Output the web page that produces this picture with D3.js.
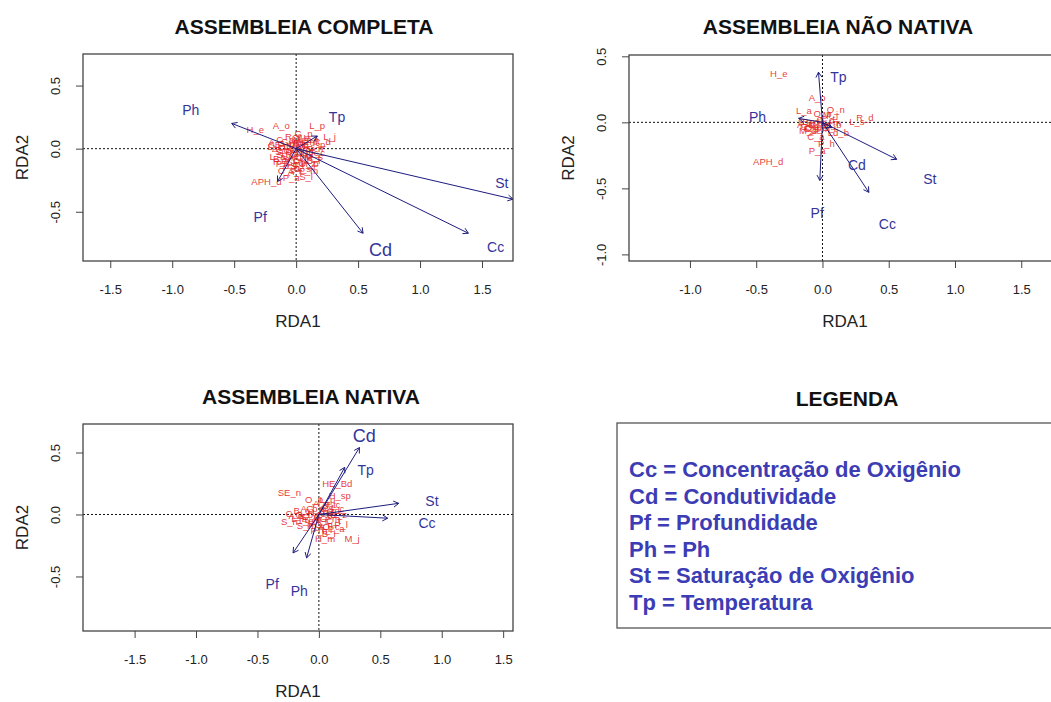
<!DOCTYPE html>
<html>
<head>
<meta charset="utf-8">
<script src="https://cdn.jsdelivr.net/npm/d3@7"></script>
<style>
  html, body { margin: 0; padding: 0; background: #fff; }
  svg { display: block; font-family: "Liberation Sans", Arial, sans-serif; }
</style>
</head>
<body>
<svg id="chart" width="1051" height="702"></svg>
<script>
'use strict';

// biplot arrows: [variable, RDA1, RDA2]
const ARROWS_COMPLETA = [
    ['Ph', -0.52, 0.20],
    ['Tp', 0.17, 0.10],
    ['St', 1.75, -0.40],
    ['Cc', 1.39, -0.67],
    ['Cd', 0.54, -0.67],
    ['Pf', -0.15, -0.26],
];
const LABELS_COMPLETA = [
    ['Ph', -0.85, 0.31],
    ['Tp', 0.33, 0.25],
    ['St', 1.66, -0.27],
    ['Cc', 1.61, -0.78],
    ['Cd', 0.68, -0.80],
    ['Pf', -0.29, -0.54],
];
const SPECIES_COMPLETA = [
    ['H_e', -0.33, 0.15], ['A_o', -0.12, 0.18], ['L_p', 0.17, 0.18], ['L_j', 0.27, 0.10],
    ['R_d', 0.21, 0.06], ['APH_d', -0.24, -0.26], ['P_a', -0.04, -0.23], ['S_l', 0.08, -0.22],
    ['O_n', 0.04, 0.09], ['C_a', -0.09, 0.07], ['HE_sp', 0.12, 0.03], ['SE_n', -0.13, 0.03],
    ['M_j', 0.13, -0.06], ['S_b', -0.10, -0.02], ['G_b', 0.02, -0.05], ['P_h', -0.04, -0.15],
    ['C_z', 0.09, -0.12], ['B_i', 0.14, -0.09], ['L_a', -0.15, -0.06], ['A_b', 0.03, 0.03],
    ['C_t', -0.06, -0.09], ['H_m', 0.09, 0.06], ['A_f', -0.01, -0.18], ['S_n', 0.15, 0.00],
    ['P_l', -0.11, -0.12], ['G_s', 0.05, -0.16], ['O_p', -0.03, 0.02], ['T_c', 0.17, -0.03],
    ['C_m', -0.07, 0.04], ['S_m', 0.00, -0.10], ['H_b', 0.07, -0.02], ['A_l', -0.14, 0.00],
    ['P_m', 0.10, -0.17], ['R_q', -0.02, 0.10], ['G_p', 0.06, 0.12], ['C_s', -0.08, -0.17],
    ['L_s', 0.12, 0.09], ['H_a', -0.05, -0.04],
    ['A_s', -0.16, 0.05], ['B_c', -0.12, -0.08], ['C_p', -0.08, 0.01], ['G_m', -0.04, 0.06],
    ['H_f', 0.00, 0.04], ['L_m', 0.04, -0.01], ['M_s', 0.08, 0.02], ['O_c', 0.11, -0.03],
    ['P_s', 0.15, -0.06], ['R_l', -0.13, -0.10], ['S_c', -0.09, -0.05], ['T_g', -0.05, -0.12],
    ['A_t', -0.01, -0.07], ['C_l', 0.03, -0.09], ['G_c', 0.07, -0.07], ['H_p', 0.11, -0.12],
    ['L_c', -0.17, 0.02], ['M_p', 0.05, 0.07], ['P_n', -0.02, -0.02], ['S_t', 0.01, -0.13],
];

const ARROWS_NAO_NATIVA = [
    ['Tp', -0.03, 0.38],
    ['Pf', -0.02, -0.44],
    ['Ph', -0.18, 0.03],
    ['St', 0.56, -0.28],
    ['Cd', 0.35, -0.53],
    ['Cc', 0.07, -0.04],
];
const LABELS_NAO_NATIVA = [
    ['Tp', 0.12, 0.34],
    ['Pf', -0.04, -0.69],
    ['Ph', -0.49, 0.04],
    ['St', 0.81, -0.43],
    ['Cd', 0.26, -0.32],
    ['Cc', 0.49, -0.77],
];
const SPECIES_NAO_NATIVA = [
    ['H_e', -0.33, 0.37], ['APH_d', -0.41, -0.30], ['A_o', -0.04, 0.19], ['L_a', -0.14, 0.09],
    ['O_n', 0.10, 0.10], ['R_d', 0.32, 0.04], ['L_s', 0.26, 0.01], ['C_a', -0.05, -0.11],
    ['Ld_b', 0.12, -0.08], ['P_a', -0.04, -0.21], ['P_h', 0.03, -0.16], ['G_b', -0.10, -0.03],
    ['S_b', -0.06, 0.00], ['C_t', 0.04, 0.03], ['H_m', -0.02, -0.05], ['A_b', 0.08, -0.02],
    ['S_n', -0.12, 0.01], ['M_j', 0.06, 0.06], ['O_p', 0.00, 0.07], ['C_z', -0.08, -0.05],
    ['B_i', 0.05, -0.04],
    ['A_s', -0.13, -0.02], ['B_c', -0.09, 0.01], ['C_p', -0.07, -0.04], ['G_m', -0.03, -0.02],
    ['H_f', 0.01, -0.01], ['L_m', 0.07, 0.00], ['M_s', -0.11, -0.06], ['O_c', 0.02, 0.02],
];

const ARROWS_NATIVA = [
    ['Cd', 0.33, 0.54],
    ['Tp', 0.21, 0.38],
    ['St', 0.65, 0.09],
    ['Cc', 0.56, -0.03],
    ['Pf', -0.21, -0.31],
    ['Ph', -0.10, -0.35],
];
const LABELS_NATIVA = [
    ['Cd', 0.37, 0.63],
    ['Tp', 0.38, 0.36],
    ['St', 0.92, 0.11],
    ['Cc', 0.88, -0.07],
    ['Pf', -0.38, -0.56],
    ['Ph', -0.16, -0.62],
];
const SPECIES_NATIVA = [
    ['SE_n', -0.24, 0.18], ['HE_Bd', 0.15, 0.25], ['H_sp', 0.17, 0.15], ['M_j', 0.27, -0.19],
    ['H_m', 0.05, -0.19], ['S_n', -0.24, -0.06], ['C_a', -0.20, 0.01], ['A_o', 0.02, 0.09],
    ['L_p', 0.07, 0.12], ['P_a', 0.14, -0.11], ['R_d', 0.10, 0.03], ['G_b', -0.12, 0.00],
    ['S_b', -0.05, -0.04], ['C_t', 0.12, -0.05], ['O_n', 0.04, -0.08], ['A_b', -0.08, 0.05],
    ['P_h', 0.00, -0.13], ['B_i', 0.08, -0.15], ['L_a', -0.16, -0.03], ['C_z', 0.16, 0.00],
    ['H_e', -0.02, 0.02], ['A_f', 0.06, 0.05], ['S_m', -0.10, -0.09], ['T_c', 0.11, 0.08],
    ['G_s', 0.03, -0.02], ['P_l', 0.18, -0.08], ['O_p', -0.04, 0.12], ['C_m', 0.09, -0.03],
    ['A_s', -0.18, -0.01], ['B_c', -0.14, 0.03], ['C_p', -0.07, -0.02], ['G_m', -0.02, 0.05],
    ['H_f', 0.01, -0.05], ['L_m', 0.06, 0.00], ['M_s', 0.13, 0.02], ['O_c', 0.10, -0.10],
    ['P_s', -0.03, -0.09], ['R_l', 0.05, -0.12], ['S_c', 0.14, 0.05], ['T_g', -0.11, -0.05],
    ['A_t', 0.08, 0.08],
];

// tick values
const X_TICKS_COMPLETA = [-1.5, -1.0, -0.5, 0.0, 0.5, 1.0, 1.5];
const Y_TICKS_COMPLETA = [-0.5, 0.0, 0.5];
const X_TICKS_NAO_NATIVA = [-1.0, -0.5, 0.0, 0.5, 1.0, 1.5];
const Y_TICKS_NAO_NATIVA = [-1.0, -0.5, 0.0, 0.5];
const X_TICKS_NATIVA = [-1.5, -1.0, -0.5, 0.0, 0.5, 1.0, 1.5];
const Y_TICKS_NATIVA = [-0.5, 0.0, 0.5];

const LEGEND_LINES = [
    'Cc = Concentração de Oxigênio',
    'Cd = Condutividade',
    'Pf = Profundidade',
    'Ph = Ph',
    'St = Saturação de Oxigênio',
    'Tp = Temperatura',
];

const ARROW_COLOR = '#1c1c7e';
const LABEL_COLOR = '#34349a';
const SPECIES_COLOR = '#e42424';

const svg = d3.select('#chart');
svg.append('rect').attr('width', 1051).attr('height', 702).attr('fill', '#fff');

const fmt = (v) => v.toFixed(1);

const PANELS = [
    {
        title: 'ASSEMBLEIA COMPLETA', titleX: 304, titleY: 34,
        box: { left: 83, top: 54, right: 513, bottom: 261 },
        xDomain: [-1.72, 1.75], yDomain: [-0.89, 0.75],
        xTicks: X_TICKS_COMPLETA, yTicks: Y_TICKS_COMPLETA,
        arrows: ARROWS_COMPLETA, labels: LABELS_COMPLETA, species: SPECIES_COMPLETA,
        bigLabel: 'Cd',
    },
    {
        title: 'ASSEMBLEIA NÃO NATIVA', titleX: 838, titleY: 34,
        box: { left: 629, top: 55, right: 1061, bottom: 261 },
        xDomain: [-1.46, 1.80], yDomain: [-1.05, 0.51],
        xTicks: X_TICKS_NAO_NATIVA, yTicks: Y_TICKS_NAO_NATIVA,
        arrows: ARROWS_NAO_NATIVA, labels: LABELS_NAO_NATIVA, species: SPECIES_NAO_NATIVA,
        bigLabel: null,
    },
    {
        title: 'ASSEMBLEIA NATIVA', titleX: 311, titleY: 404,
        box: { left: 83, top: 424, right: 513, bottom: 631 },
        xDomain: [-1.92, 1.58], yDomain: [-0.94, 0.73],
        xTicks: X_TICKS_NATIVA, yTicks: Y_TICKS_NATIVA,
        arrows: ARROWS_NATIVA, labels: LABELS_NATIVA, species: SPECIES_NATIVA,
        bigLabel: 'Cd',
    },
];

const drawPanel = (p, idx) => {
    const { box } = p;
    const x = d3.scaleLinear().domain(p.xDomain).range([box.left, box.right]);
    const y = d3.scaleLinear().domain(p.yDomain).range([box.bottom, box.top]);
    const g = svg.append('g');

    // title
    g.append('text')
        .attr('x', p.titleX).attr('y', p.titleY)
        .attr('text-anchor', 'middle')
        .attr('font-size', 21).attr('font-weight', 'bold')
        .attr('fill', '#111')
        .text(p.title);

    // clip for the plot region
    const clipId = `clip-${idx}`;
    g.append('clipPath').attr('id', clipId)
        .append('rect')
        .attr('x', box.left).attr('y', box.top)
        .attr('width', box.right - box.left).attr('height', box.bottom - box.top);
    const plot = g.append('g').attr('clip-path', `url(#${clipId})`);

    // dotted zero lines
    plot.append('line')
        .attr('x1', x(0)).attr('x2', x(0)).attr('y1', box.top).attr('y2', box.bottom)
        .attr('stroke', '#111').attr('stroke-dasharray', '2,2');
    plot.append('line')
        .attr('x1', box.left).attr('x2', box.right).attr('y1', y(0)).attr('y2', y(0))
        .attr('stroke', '#111').attr('stroke-dasharray', '2,2');

    // species scores
    plot.selectAll('text.sp')
        .data(p.species)
        .join('text')
        .attr('class', 'sp')
        .attr('x', (d) => x(d[1])).attr('y', (d) => y(d[2]))
        .attr('text-anchor', 'middle').attr('dominant-baseline', 'central')
        .attr('font-size', 9.5)
        .attr('fill', SPECIES_COLOR)
        .attr('fill-opacity', 0.9)
        .text((d) => d[0]);

    // biplot arrows
    plot.selectAll('path.arrow')
        .data(p.arrows)
        .join('path')
        .attr('class', 'arrow')
        .attr('fill', 'none').attr('stroke', ARROW_COLOR).attr('stroke-width', 1)
        .attr('d', (d) => {
            const x0 = x(0), y0 = y(0), x1 = x(d[1]), y1 = y(d[2]);
            const a = Math.atan2(y1 - y0, x1 - x0);
            const len = 6, phi = Math.PI / 6;
            const path = d3.path();
            path.moveTo(x0, y0);
            path.lineTo(x1, y1);
            path.moveTo(x1 - len * Math.cos(a - phi), y1 - len * Math.sin(a - phi));
            path.lineTo(x1, y1);
            path.lineTo(x1 - len * Math.cos(a + phi), y1 - len * Math.sin(a + phi));
            return path.toString();
        });

    // arrow labels
    plot.selectAll('text.lab')
        .data(p.labels)
        .join('text')
        .attr('class', 'lab')
        .attr('x', (d) => x(d[1])).attr('y', (d) => y(d[2]))
        .attr('text-anchor', 'middle').attr('dominant-baseline', 'central')
        .attr('font-size', (d) => (d[0] === p.bigLabel ? 18 : 14))
        .attr('fill', LABEL_COLOR)
        .text((d) => d[0]);

    // box
    g.append('rect')
        .attr('x', box.left).attr('y', box.top)
        .attr('width', box.right - box.left).attr('height', box.bottom - box.top)
        .attr('fill', 'none').attr('stroke', '#444').attr('stroke-width', 1.3);

    // x axis
    const xAxis = g.append('g')
        .attr('transform', `translate(0,${box.bottom})`)
        .call(d3.axisBottom(x).tickValues(p.xTicks).tickFormat(fmt)
            .tickSize(7).tickSizeOuter(0).tickPadding(16.5));
    xAxis.select('.domain').remove();
    xAxis.selectAll('line').attr('stroke', '#444');
    xAxis.selectAll('text')
        .attr('font-size', 13).attr('fill', '#222')
        .attr('font-family', '"Liberation Sans", Arial, sans-serif');

    // y axis with rotated labels
    const yAxis = g.append('g')
        .attr('transform', `translate(${box.left},0)`)
        .call(d3.axisLeft(y).tickValues(p.yTicks).tickFormat(fmt)
            .tickSize(7).tickSizeOuter(0));
    yAxis.select('.domain').remove();
    yAxis.selectAll('line').attr('stroke', '#444');
    yAxis.selectAll('text')
        .attr('x', null).attr('dy', null).attr('y', 0)
        .attr('text-anchor', 'middle')
        .attr('transform', 'translate(-23.5,0) rotate(-90)')
        .attr('font-size', 13).attr('fill', '#222')
        .attr('font-family', '"Liberation Sans", Arial, sans-serif');

    // axis titles
    g.append('text')
        .attr('x', (box.left + box.right) / 2).attr('y', box.bottom + 66)
        .attr('text-anchor', 'middle').attr('font-size', 17).attr('fill', '#222')
        .text('RDA1');
    g.append('text')
        .attr('transform', `translate(${box.left - 55},${(box.top + box.bottom) / 2}) rotate(-90)`)
        .attr('text-anchor', 'middle').attr('font-size', 17).attr('fill', '#222')
        .text('RDA2');
};

PANELS.forEach(drawPanel);

// legend panel
const legend = svg.append('g');
legend.append('text')
    .attr('x', 847).attr('y', 406)
    .attr('text-anchor', 'middle')
    .attr('font-size', 21).attr('font-weight', 'bold').attr('fill', '#111')
    .text('LEGENDA');
legend.append('rect')
    .attr('x', 617).attr('y', 423).attr('width', 450).attr('height', 205)
    .attr('fill', 'none').attr('stroke', '#555').attr('stroke-width', 1.3);
const lineY = d3.scaleLinear().domain([0, LEGEND_LINES.length - 1]).range([477, 610]);
legend.selectAll('text.leg')
    .data(LEGEND_LINES)
    .join('text')
    .attr('class', 'leg')
    .attr('x', 629).attr('y', (d, i) => lineY(i))
    .attr('font-size', 22).attr('font-weight', 'bold').attr('fill', '#3c3cb4')
    .text((d) => d);
</script>
</body>
</html>
